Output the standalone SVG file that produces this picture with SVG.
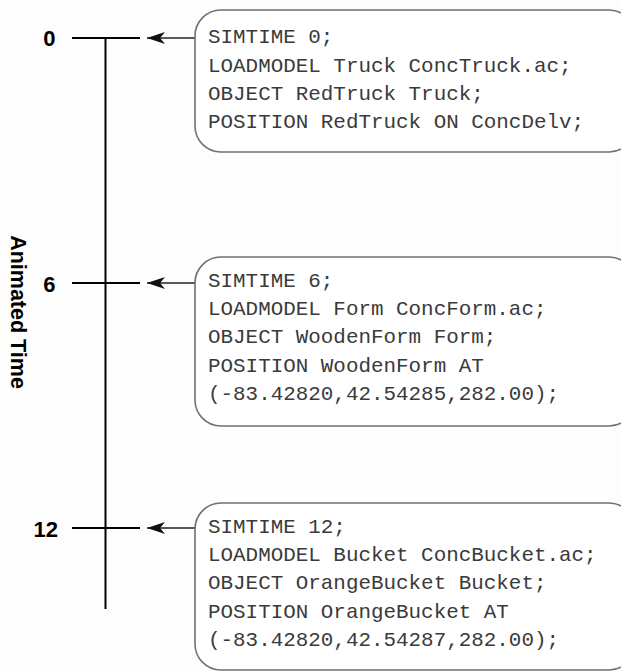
<svg xmlns="http://www.w3.org/2000/svg" width="621" height="671" viewBox="0 0 621 671">
  <style>
    .axis { stroke: #000; stroke-width: 2; fill: none; }
    .conn { stroke: #222; stroke-width: 1.4; fill: none; }
    .box { fill: #fff; stroke: #707070; stroke-width: 1.6; }
    .code { font-family: "Liberation Mono", "Courier New", monospace; font-size: 20.9px; fill: #3a3a3a; }
    .tick { font-family: "Liberation Sans", Arial, sans-serif; font-size: 22px; font-weight: bold; fill: #000; }
    .title { font-family: "Liberation Sans", Arial, sans-serif; font-size: 21.5px; font-weight: bold; fill: #000; }
  </style>
  <defs>
    <!-- filled vee arrowhead, tip at the line end -->
    <marker id="vee" markerWidth="20" markerHeight="14" refX="19" refY="7" orient="auto" markerUnits="userSpaceOnUse">
      <path d="M1,1 L19,7 L1,13 L6,7 Z" fill="#111"/>
    </marker>
  </defs>
  <rect width="621" height="671" fill="#fdfdfd"/>

  <!-- time axis -->
  <g id="axis">
    <line class="axis" x1="105.5" y1="38" x2="105.5" y2="609"/>
    <line class="axis" x1="72" y1="38" x2="140" y2="38"/>
    <line class="axis" x1="72" y1="283" x2="140" y2="283"/>
    <line class="axis" x1="72" y1="528" x2="140" y2="528"/>
    <text class="tick" x="55.5" y="46" text-anchor="end">0</text>
    <text class="tick" x="55.5" y="292" text-anchor="end">6</text>
    <text class="tick" x="58" y="537" text-anchor="end">12</text>
    <text class="title" transform="translate(11,312) rotate(90)" text-anchor="middle">Animated Time</text>
  </g>

  <!-- connectors from command blocks to time marks -->
  <g id="connectors">
    <line class="conn" x1="195" y1="38" x2="147" y2="38" marker-end="url(#vee)"/>
    <line class="conn" x1="195" y1="283" x2="147" y2="283" marker-end="url(#vee)"/>
    <line class="conn" x1="195" y1="528" x2="147" y2="528" marker-end="url(#vee)"/>
  </g>

  <g id="block-t0">
    <rect class="box" x="195" y="10" width="440" height="142" rx="26"/>
    <text class="code" x="208" y="43">SIMTIME 0;</text>
    <text class="code" x="208" y="72">LOADMODEL Truck ConcTruck.ac;</text>
    <text class="code" x="208" y="100">OBJECT RedTruck Truck;</text>
    <text class="code" x="208" y="128">POSITION RedTruck ON ConcDelv;</text>
  </g>

  <g id="block-t6">
    <rect class="box" x="195" y="257" width="440" height="169" rx="26"/>
    <text class="code" x="208" y="287">SIMTIME 6;</text>
    <text class="code" x="208" y="315">LOADMODEL Form ConcForm.ac;</text>
    <text class="code" x="208" y="343">OBJECT WoodenForm Form;</text>
    <text class="code" x="208" y="372">POSITION WoodenForm AT</text>
    <text class="code" x="208" y="400">(-83.42820,42.54285,282.00);</text>
  </g>

  <g id="block-t12">
    <rect class="box" x="195" y="503" width="440" height="167" rx="26"/>
    <text class="code" x="208" y="533">SIMTIME 12;</text>
    <text class="code" x="208" y="561">LOADMODEL Bucket ConcBucket.ac;</text>
    <text class="code" x="208" y="589">OBJECT OrangeBucket Bucket;</text>
    <text class="code" x="208" y="618">POSITION OrangeBucket AT</text>
    <text class="code" x="208" y="646">(-83.42820,42.54287,282.00);</text>
  </g>
</svg>
